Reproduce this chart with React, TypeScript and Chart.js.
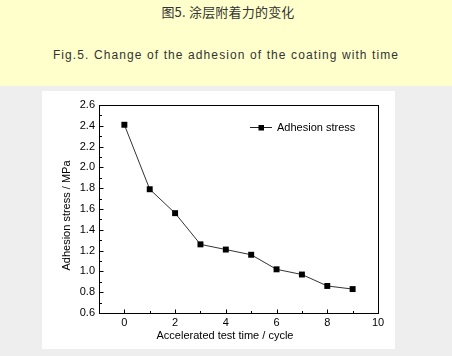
import React, { useEffect, useRef } from 'react';
import { Chart, registerables } from 'chart.js';

Chart.register(...registerables);

const cycles = [0, 1, 2, 3, 4, 5, 6, 7, 8, 9];
const adhesionStress = [2.41, 1.79, 1.56, 1.26, 1.21, 1.16, 1.02, 0.97, 0.86, 0.83];
const xMajorTicks = [0, 2, 4, 6, 8, 10];
const xMinorTicks = [1, 3, 5, 7, 9];
const yMajorTicks = [0.6, 0.8, 1.0, 1.2, 1.4, 1.6, 1.8, 2.0, 2.2, 2.4, 2.6];
const yMinorTicks = [0.7, 0.9, 1.1, 1.3, 1.5, 1.7, 1.9, 2.1, 2.3, 2.5];
const seriesLabel = 'Adhesion stress';
const xTitle = 'Accelerated test time / cycle';
const yTitle = 'Adhesion stress / MPa';
const titleCn = '图5. 涂层附着力的变化';
const titleEn = 'Fig.5. Change of the adhesion of the coating with time';

const FONT = 'Arial, "Liberation Sans", sans-serif';

const framePlugin = {
  id: 'frameTicks',
  afterDatasetsDraw(chart: any) {
    const { ctx, chartArea, scales } = chart;
    const xs = scales.x;
    const ys = scales.y;
    ctx.save();
    ctx.strokeStyle = '#000';
    ctx.lineWidth = 1;
    ctx.strokeRect(
      Math.round(chartArea.left) + 0.5,
      Math.round(chartArea.top) + 0.5,
      Math.round(chartArea.right - chartArea.left),
      Math.round(chartArea.bottom - chartArea.top)
    );
    const bottom = Math.round(chartArea.bottom) + 0.5;
    const left = Math.round(chartArea.left) + 0.5;
    ctx.beginPath();
    xMajorTicks.forEach((v) => {
      const px = Math.round(xs.getPixelForValue(v)) + 0.5;
      ctx.moveTo(px, bottom);
      ctx.lineTo(px, bottom - 4);
    });
    xMinorTicks.forEach((v) => {
      const px = Math.round(xs.getPixelForValue(v)) + 0.5;
      ctx.moveTo(px, bottom);
      ctx.lineTo(px, bottom - 2.5);
    });
    yMajorTicks.forEach((v) => {
      const py = Math.round(ys.getPixelForValue(v)) + 0.5;
      ctx.moveTo(left, py);
      ctx.lineTo(left + 4, py);
    });
    yMinorTicks.forEach((v) => {
      const py = Math.round(ys.getPixelForValue(v)) + 0.5;
      ctx.moveTo(left, py);
      ctx.lineTo(left + 2.5, py);
    });
    ctx.stroke();
    ctx.restore();
  },
  afterDraw(chart: any) {
    const { ctx, chartArea } = chart;
    const ds = chart.data.datasets[0];
    const lx = chartArea.right - 128;
    const ly = chartArea.top + 22;
    ctx.save();
    ctx.strokeStyle = '#222';
    ctx.lineWidth = 1;
    ctx.beginPath();
    ctx.moveTo(lx, ly + 0.5);
    ctx.lineTo(lx + 22, ly + 0.5);
    ctx.stroke();
    ctx.fillStyle = '#000';
    ctx.fillRect(lx + 8.5, ly - 2, 5.5, 5.5);
    ctx.font = `11px ${FONT}`;
    ctx.textBaseline = 'middle';
    ctx.fillStyle = '#000';
    ctx.fillText(ds.label, lx + 27, ly + 1);

    // axis titles
    ctx.textAlign = 'center';
    ctx.fillText(xTitle, (chartArea.left + chartArea.right) / 2 - 13.5, chartArea.bottom + 23);
    ctx.translate(chartArea.left - 32, (chartArea.top + chartArea.bottom) / 2 + 6.5);
    ctx.rotate(-Math.PI / 2);
    ctx.fillText(yTitle, 0, 0);
    ctx.restore();
  },
};

export default function App() {
  const ref = useRef<HTMLCanvasElement>(null);
  useEffect(() => {
    if (!ref.current) return;
    const chart = new Chart(ref.current, {
      type: 'line',
      data: {
        datasets: [
          {
            label: seriesLabel,
            data: cycles.map((c, i) => ({ x: c, y: adhesionStress[i] })),
            borderColor: '#333',
            borderWidth: 1,
            pointStyle: 'rect',
            pointRadius: 4.2,
            pointBackgroundColor: '#000',
            pointBorderColor: '#000',
            pointBorderWidth: 0,
            tension: 0,
          },
        ],
      },
      options: {
        animation: false,
        responsive: false,
        devicePixelRatio: 1,
        layout: { padding: { top: 14, right: 17, left: 0, bottom: 0 } },
        plugins: { legend: { display: false }, tooltip: { enabled: false } },
        scales: {
          x: {
            type: 'linear',
            min: -1,
            max: 10,
            grid: { display: false, drawTicks: false },
            border: { display: false },
            afterBuildTicks: (s: any) => {
              s.ticks = xMajorTicks.map((v) => ({ value: v }));
            },
            afterFit: (s: any) => {
              s.height = 36;
            },
            ticks: {
              padding: 3,
              color: '#000',
              font: { family: FONT, size: 11 },
              maxRotation: 0,
              callback: (v: any) => String(v),
            },
            title: { display: false },
          },
          y: {
            type: 'linear',
            min: 0.6,
            max: 2.6,
            grid: { display: false, drawTicks: false },
            border: { display: false },
            afterBuildTicks: (s: any) => {
              s.ticks = yMajorTicks.map((v) => ({ value: v }));
            },
            afterFit: (s: any) => {
              s.width = 57;
            },
            ticks: {
              padding: 4,
              color: '#000',
              font: { family: FONT, size: 11 },
              callback: (v: any) => Number(v).toFixed(1),
            },
            title: { display: false },
          },
        },
      },
      plugins: [framePlugin],
    } as any);
    return () => chart.destroy();
  }, []);

  return (
    <div
      style={{
        position: 'fixed',
        left: 0,
        top: 0,
        width: 452,
        height: 356,
        background: '#eeeeee',
        overflow: 'hidden',
      }}
    >
      <div
        style={{
          position: 'absolute',
          left: 0,
          top: 0,
          width: 452,
          height: 86,
          background: '#ffffcc',
        }}
      >
        <div
          style={{
            position: 'absolute',
            left: 2,
            width: 452,
            top: 3,
            textAlign: 'center',
            fontFamily: '"Noto Sans CJK SC", sans-serif',
            fontSize: 13,
            lineHeight: '18px',
            letterSpacing: '0.2px',
            color: '#333',
          }}
        >
          {titleCn}
        </div>
        <div
          style={{
            position: 'absolute',
            left: 0,
            width: 452,
            top: 47,
            textAlign: 'center',
            fontFamily: FONT,
            fontSize: 12,
            lineHeight: '16px',
            letterSpacing: '1.1px',
            color: '#333',
          }}
        >
          {titleEn}
        </div>
      </div>
      <div
        style={{
          position: 'absolute',
          left: 42,
          top: 91,
          width: 353,
          height: 258,
          background: '#fff',
        }}
      >
        <canvas ref={ref} width={353} height={258} style={{ display: 'block', width: 353, height: 258 }} />
      </div>
    </div>
  );
}
